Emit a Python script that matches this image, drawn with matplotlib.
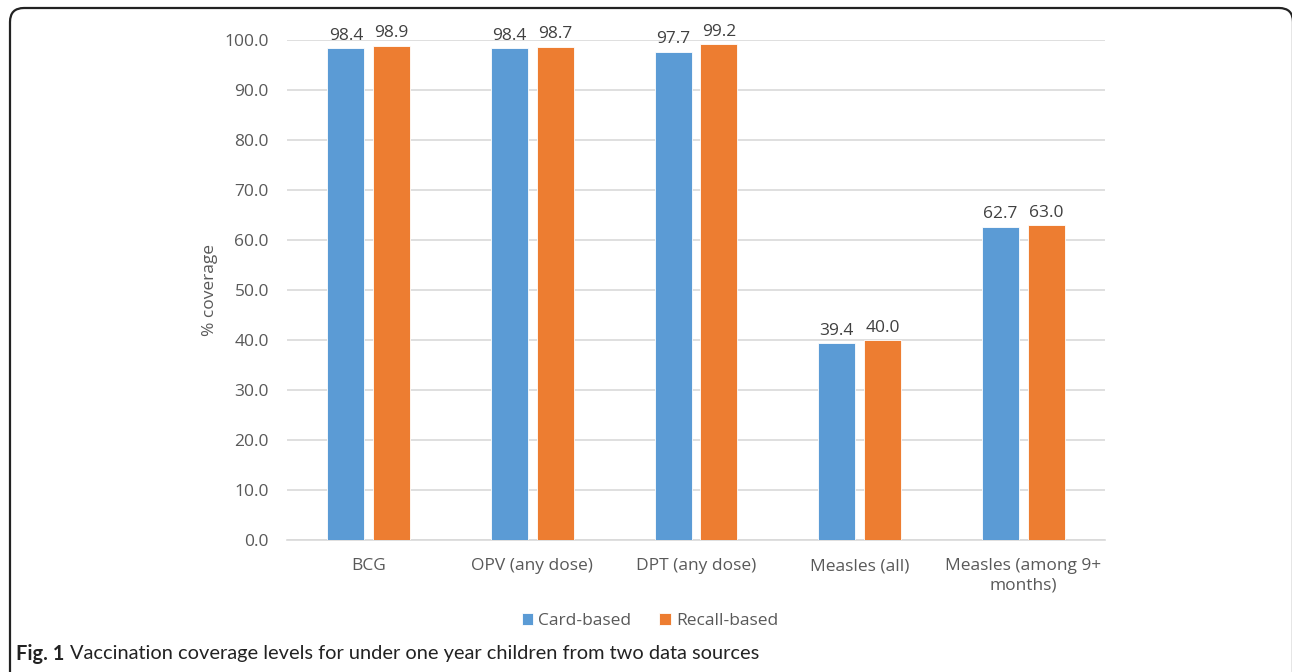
import matplotlib
matplotlib.use("Agg")
import matplotlib.pyplot as plt
from matplotlib.patches import FancyBboxPatch
from matplotlib.transforms import IdentityTransform
import numpy as np

categories = ["BCG", "OPV (any dose)", "DPT (any dose)", "Measles (all)", "Measles (among 9+\nmonths)"]
card_based = [98.4, 98.4, 97.7, 39.4, 62.7]
recall_based = [98.9, 98.7, 99.2, 40.0, 63.0]
series_names = ["Card-based", "Recall-based"]
yticks = [0, 10, 20, 30, 40, 50, 60, 70, 80, 90, 100]

BLUE = "#5B9BD5"
ORANGE = "#ED7D31"
TXT = "#595959"
GRID = "#D9D9D9"
FS = 12.5

plt.rcParams['font.family'] = ['Open Sans', 'DejaVu Sans']

fig = plt.figure(figsize=(12.92, 6.72), dpi=100)
W, H = 1292, 672
ax = fig.add_axes([287 / W, 1 - 540 / H, 818 / W, 500 / H])

x = np.arange(len(categories))
bw = 0.225
off = 0.14
b1 = ax.bar(x - off, card_based, bw, color=BLUE, edgecolor="white", linewidth=0.6, label=series_names[0], zorder=3)
b2 = ax.bar(x + off, recall_based, bw, color=ORANGE, edgecolor="white", linewidth=0.6, label=series_names[1], zorder=3)

for bars, vals in ((b1, card_based), (b2, recall_based)):
    for r, v in zip(bars, vals):
        ax.annotate(f"{v:.1f}", (r.get_x() + r.get_width() / 2, v), xytext=(0, 3),
                    textcoords="offset points", ha="center", va="bottom",
                    fontsize=FS, color="#404040", annotation_clip=False)

ax.set_xlim(-0.5, len(categories) - 0.5)
ax.set_ylim(0, 100)
ax.set_yticks(yticks)
ax.set_yticklabels([f"{t:.1f}" for t in yticks])
ax.set_xticks(x)
ax.set_xticklabels(categories, linespacing=1.3)
ax.grid(axis="y", color=GRID, linewidth=1.2, zorder=0)
ax.set_axisbelow(True)
for s in ["top", "right", "left"]:
    ax.spines[s].set_visible(False)
ax.spines["bottom"].set_color(GRID)
ax.spines["bottom"].set_linewidth(1.2)
ax.tick_params(axis="both", length=0, labelsize=FS, labelcolor=TXT)
ax.tick_params(axis="y", pad=13)
ax.tick_params(axis="x", pad=13)
ax.set_ylabel("% coverage", fontsize=FS, color=TXT, labelpad=5)

leg = fig.legend(handles=[b1, b2], labels=series_names, loc="center",
                 bbox_to_anchor=(650 / W, 1 - 621 / H), ncol=2, frameon=False,
                 fontsize=FS, handlelength=0.65, handleheight=0.65,
                 handletextpad=0.3, columnspacing=1.6)
for t in leg.get_texts():
    t.set_color(TXT)

# border (pixel coordinates)
border = FancyBboxPatch((10, -30), 1283, H - 8 + 30,
                        boxstyle="round,pad=0,rounding_size=14",
                        transform=IdentityTransform(), fill=False,
                        edgecolor="#222222", linewidth=1.6, clip_on=False)
fig.patches.append(border)

cap_y = 1 - 654 / H
t1 = fig.text(16 / W, cap_y, "Fig. 1", fontsize=14.4, fontweight="bold",
              color="#222222", va="center", ha="left", family=["Lato", "DejaVu Sans"])
fig.canvas.draw()
bb = t1.get_window_extent()
fig.text((bb.x1 + 6) / W, cap_y, "Vaccination coverage levels for under one year children from two data sources",
         fontsize=14.4, color="#222222", va="center", ha="left", family=["Lato", "DejaVu Sans"])

fig.savefig("out.png", dpi=100)
